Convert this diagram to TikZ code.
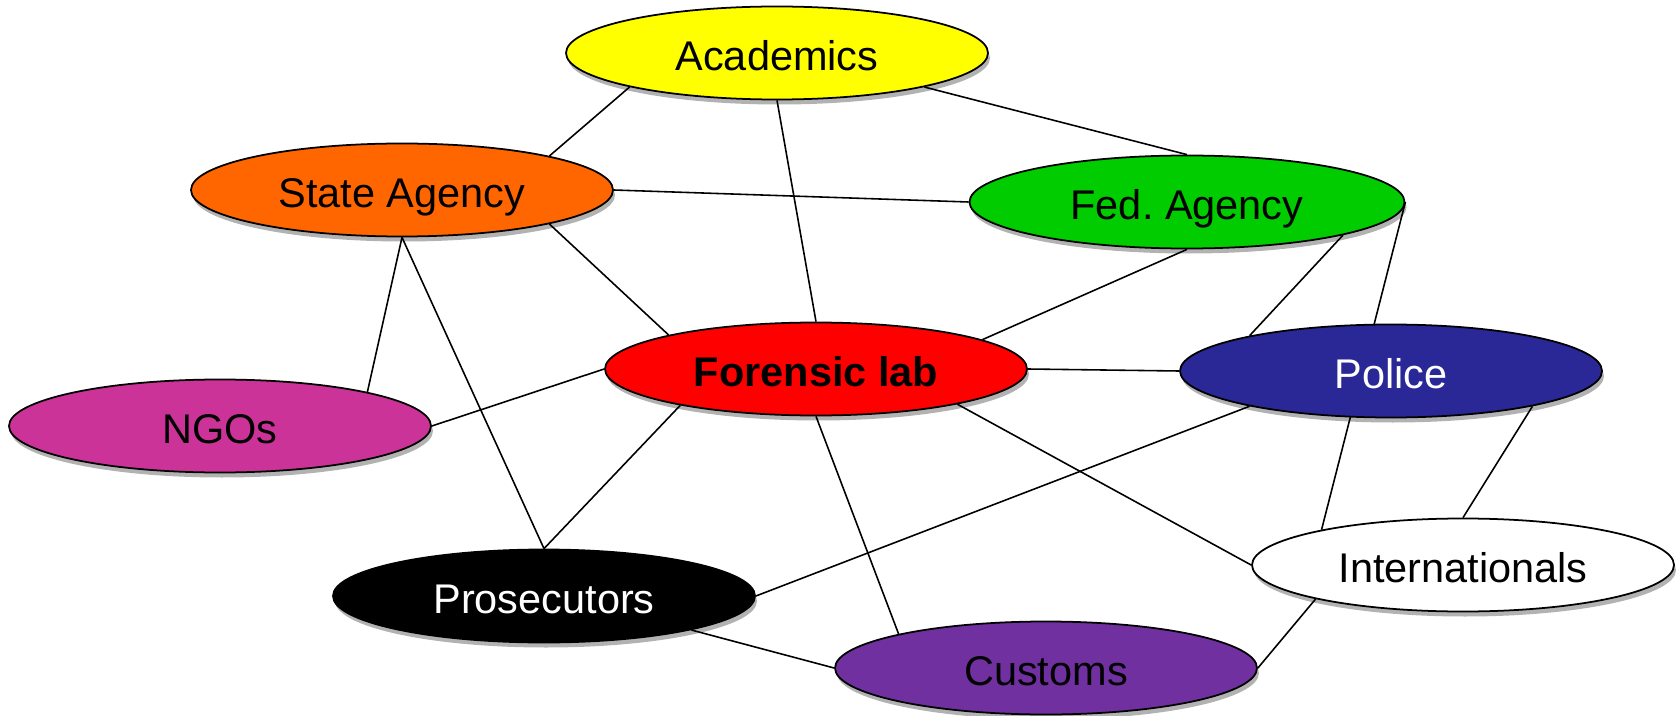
\documentclass[tikz,border=0pt]{standalone}
\usepackage{fontspec}
\setmainfont{Liberation Sans}
\usetikzlibrary{shapes.geometric,shadows}
\pgfdeclarelayer{background}
\pgfsetlayers{background,main}
\definecolor{acadyellow}{HTML}{FFFF00}
\definecolor{stateorange}{HTML}{FF6600}
\definecolor{fedgreen}{HTML}{00CC00}
\definecolor{labred}{HTML}{FF0000}
\definecolor{policeblue}{HTML}{292896}
\definecolor{ngomagenta}{HTML}{CC3399}
\definecolor{customspurple}{HTML}{7030A0}
\begin{document}
\begin{tikzpicture}[
    group/.style={ellipse, draw=black, line width=0.5pt, inner sep=0pt,
        minimum width=4.22cm, minimum height=0.93cm,
        text height=9.7pt, text depth=0pt,
        font=\fontsize{11.8}{14}\selectfont,
        drop shadow={shadow xshift=0.02cm, shadow yshift=-0.05cm, opacity=0.3, fill=black}},
    link/.style={line width=0.45pt}
]
            \useasboundingbox (0,0) rectangle (16.8,-7.16);
            \node [group, fill=acadyellow] (acad) at (7.77,-0.53) {Academics};
            \node [group, fill=stateorange] (state) at (4.02,-1.90) {State Agency};
            \node [group, fill=fedgreen, minimum width=4.35cm] (fed) at (11.87,-2.02) {Fed.\ Agency};
            \node [group, fill=labred, font=\fontsize{11.8}{14}\selectfont\bfseries] (lab) at (8.16,-3.69) {Forensic lab};
            \node [group, fill=policeblue, text=white] (police) at (13.91,-3.71) {Police};
            \node [group, fill=ngomagenta] (ngo) at (2.20,-4.26) {NGOs};
            \node [group, fill=black, text=white] (pros) at (5.44,-5.96) {Prosecutors};
            \node [group, fill=customspurple] (customs) at (10.46,-6.68) {Customs};
            \node [group, fill=white] (intl) at (14.63,-5.65) {Internationals};
            \begin{pgfonlayer}{background}
            \draw [link] (acad.193) -- (state.13);
            \draw [link] (acad.347) -- (fed.north);
            \draw [link] (acad.south) -- (lab.north);
            \draw [link] (state.east) -- (fed.west);
            \draw [link] (state.347) -- (lab.167);
            \draw [link] (state.south) -- (ngo.13);
            \draw [link] (state.south) -- (pros.north);
            \draw [link] (fed.south) -- (lab.10);
            \draw [link] (fed.348) -- (police.166);
            \draw [link] (fed.east) -- (intl.166);
            \draw [link] (lab.east) -- (police.west);
            \draw [link] (lab.west) -- (ngo.east);
            \draw [link] (lab.195) -- (pros.north);
            \draw [link] (lab.south) -- (customs.167);
            \draw [link] (lab.346) -- (intl.west);
            \draw [link] (police.194) -- (pros.east);
            \draw [link] (police.346) -- (intl.north);
            \draw [link] (pros.347) -- (customs.west);
            \draw [link] (customs.east) -- (intl.193);
            \end{pgfonlayer}
        \end{tikzpicture}
\end{document}
